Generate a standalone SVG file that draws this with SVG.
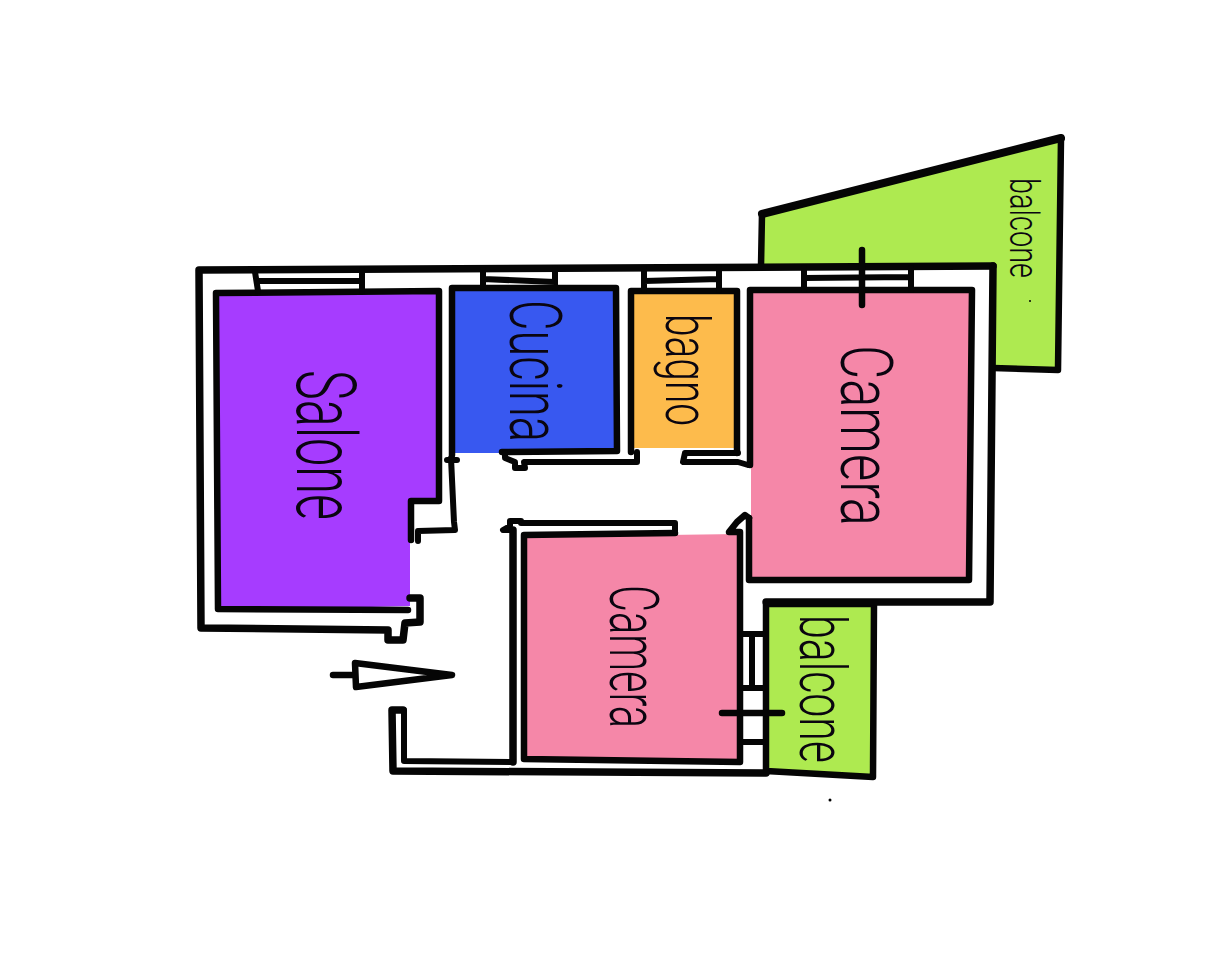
<svg xmlns="http://www.w3.org/2000/svg" width="1225" height="959" viewBox="0 0 1225 959">
<style>
.w{fill:none;stroke:#050505;stroke-width:6.5;stroke-linecap:round;stroke-linejoin:round}
.o{stroke-width:7.5}
.t{stroke-width:6}
.l{font-family:Roboto,"Liberation Sans",Arial,sans-serif;font-weight:300;fill:#0a0510}
</style>
<rect width="1225" height="959" fill="#fff"/>
<g id="balcone-nord">
<path d="M761 266V213L1061 138L1059 370L993 368V266Z" fill="#AEEA50"/>
<path class="w" d="M761 266L762 214"/>
<path class="w" style="stroke-width:8" d="M762 214L1061 138"/>
<path class="w" d="M1061 138L1058 370L993 368"/>
<text class="l" transform="translate(1010 178) rotate(90)" font-size="40" textLength="100" lengthAdjust="spacingAndGlyphs">balcone</text>
<circle cx="1030" cy="301" r="1"/>
</g>
<g id="salone">
<path d="M216 292L440 291V500L410 503V606L217 611Z" fill="#A63CFF"/>
<path class="w" d="M439 291V501H411V540M439 291L216 293L218 609L408 610"/>
<text class="l" transform="translate(297 370) rotate(90)" font-size="84" textLength="150" lengthAdjust="spacingAndGlyphs">Salone</text>
</g>
<g id="cucina">
<rect x="452" y="288" width="165" height="165" fill="#3858F0"/>
<path class="w" d="M452 288H616L617 451L502 452M452 288V455"/>
<text class="l" transform="translate(510 300) rotate(90)" font-size="72" textLength="142" lengthAdjust="spacingAndGlyphs">Cucina</text>
</g>
<g id="bagno">
<rect x="631" y="290" width="106" height="158" fill="#FDBB4C"/>
<path class="w" d="M631 452V291H737V453"/>
<text class="l" transform="translate(666 314) rotate(90)" font-size="62" textLength="112" lengthAdjust="spacingAndGlyphs">bagno</text>
</g>
<g id="camera-est">
<rect x="751" y="290" width="221" height="290" fill="#F587A8"/>
<path class="w" d="M750 465V290H972L969 580H749V518"/>
<text class="l" transform="translate(841 345) rotate(90)" font-size="72" textLength="181" lengthAdjust="spacingAndGlyphs">Camera</text>
</g>
<g id="camera-sud">
<path d="M523 537L738 534V760L523 760Z" fill="#F587A8"/>
<path class="w" d="M675 533L524 535V759L740 762V532H729L737 522L745 515L749 518"/>
<text class="l" transform="translate(610 585) rotate(90)" font-size="68" textLength="143" lengthAdjust="spacingAndGlyphs">Camera</text>
</g>
<g id="balcone-sud">
<path d="M766 605H874V776L766 771Z" fill="#AEEA50"/>
<path class="w" d="M766 771V604H874L873 777L766 771"/>
<text class="l" transform="translate(800 615) rotate(90)" font-size="64" textLength="148" lengthAdjust="spacingAndGlyphs">balcone</text>
</g>
<g id="muri">
<path class="w o" d="M993 266L199 270L201 628L388 630V640H403L405 623L420 622V598H410"/>
<path class="w o" d="M993 266L990 602H766"/>
<path class="w t" d="M447 460H457M451 458L454 522L455 530L418 531V541"/>
<path class="w t" d="M505 453V458L515 462V468H525L524 462H637V452"/>
<path class="w t" d="M685 453H738M685 453L683 462H738L748 465"/>
<path class="w t" d="M675 523V533M675 523H521V521H510V526L503 530H513"/>
<path class="w o" d="M513 530V762"/>
<path class="w o" d="M403 710H392L393 771L766 773"/>
<path class="w t" d="M404 710V761L513 762"/>
</g>
<g id="finestre">
<path class="w t" d="M255 272L258 291M362 270V291M258 281L362 281"/>
<path class="w t" d="M483 270V288M555 268V288M483 279L555 282"/>
<path class="w t" d="M644 269V290M719 268V290M644 281L719 279"/>
<path class="w t" d="M804 268V290M911 268V290M804 278L911 277"/>
<path class="w t" d="M742 634H763M742 688H763M742 742H763M752 636V688"/>
<path class="w" d="M862 250V305M722 713H782"/>
</g>
<g id="ingresso">
<path class="w" d="M333 675H355M355 663L452 675L356 687Z"/>
</g>
<circle cx="830" cy="800" r="1.5"/>
</svg>
